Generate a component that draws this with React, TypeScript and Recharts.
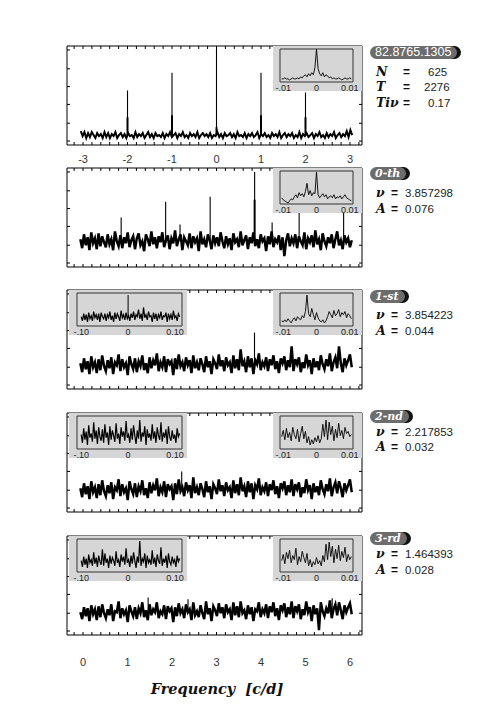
import { LineChart, Line, XAxis, YAxis } from 'recharts'

// spectral window (top panel), amplitudes in plot units (0..100)
const WIN_NOISE = [
  14, 9, 13, 7, 12, 8, 13, 10, 7, 12, 9, 11, 7, 13, 8,
  12, 7, 11, 9, 13, 7, 10, 12, 8, 11, 7, 12, 9, 10, 7,
  13, 8, 11, 9, 12, 7, 10, 13, 8, 11, 7, 12, 9, 10, 8,
  12, 7, 11, 9, 13, 8, 10, 12, 7, 11, 9, 13, 8, 10, 7,
  12, 9, 11, 8, 13, 7, 10, 12, 9, 11, 8, 12, 7, 10, 9,
  13, 8, 11, 7, 12, 9, 10, 12, 8, 11, 7, 13, 9, 10, 8,
  12, 7, 11, 9, 12, 8, 10, 13, 7, 11, 9, 12, 8, 10, 7,
  12, 9, 11, 8, 13, 7, 10, 12, 8, 11, 9, 12, 7, 10, 8,
  13, 7, 11, 9, 12, 8, 10, 12, 7, 11, 9, 13, 8, 10, 7,
  12, 8, 11, 9, 13, 7, 10, 12, 8, 11, 9, 14, 8, 15, 10,
]
const WIN_PEAK_F = [-2, -1, 0, 1, 2]
const WIN_PEAK_A = [55, 73, 97, 73, 53]
const WIN_LOBE_A = [28, 30, 18, 30, 28]
const WIN_BASE = 10

// prewhitening steps
const S0_NOISE = [
  28, 19, 33, 22, 30, 17, 35, 24, 29, 18, 34, 21, 31, 25, 20,
  33, 23, 28, 17, 36, 26, 21, 32, 19, 30, 24, 35, 20, 27, 31,
  18, 29, 34, 22, 26, 16, 33, 28, 21, 36, 23, 30, 19, 31, 25,
  35, 20, 27, 32, 18, 29, 24, 37, 21, 28, 33, 17, 30, 26, 22,
  34, 19, 31, 25, 29, 16, 36, 23, 28, 20, 33, 27, 18, 32, 24,
  30, 21, 35, 26, 19, 31, 23, 29, 17, 34, 25, 28, 20, 36, 22,
  27, 32, 18, 30, 24, 35, 21, 28, 19, 33, 26, 29, 16, 31, 23,
  36, 20, 28, 25, 32, 17, 30, 11, 27, 34, 21, 29, 24, 33, 19,
  31, 26, 22, 35, 18, 29, 25, 32, 20, 37, 23, 28, 17, 34, 26,
  21, 30, 24, 33, 19, 28, 36, 22, 27, 18, 32, 25, 29, 20, 27,
]
const S0_PEAK_F = [0.857, 1.857, 2.18, 2.857, 3.857, 4.25, 4.857, 5.857]
const S0_PEAK_A = [50, 66, 43, 71, 96, 45, 58, 58]
const S0_LOBE_A = [0, 0, 0, 0, 68, 0, 0, 0]
const S0_BASE = 26

const S1_NOISE = [
  26, 17, 31, 20, 28, 15, 33, 22, 27, 16, 30, 19, 34, 23, 18,
  29, 21, 32, 15, 27, 24, 35, 18, 30, 22, 26, 14, 33, 25, 20,
  31, 17, 28, 23, 34, 19, 26, 16, 32, 21, 29, 24, 36, 18, 27,
  22, 33, 17, 30, 25, 28, 14, 31, 20, 35, 23, 27, 18, 32, 24,
  29, 16, 34, 21, 27, 19, 31, 25, 17, 33, 22, 28, 15, 30, 26,
  20, 35, 23, 29, 18, 32, 24, 27, 16, 34, 21, 30, 19, 40, 23,
  28, 17, 33, 22, 31, 15, 29, 25, 36, 19, 27, 23, 32, 18, 30,
  24, 34, 20, 28, 16, 31, 26, 33, 19, 29, 22, 43, 18, 30, 25,
  32, 17, 27, 21, 35, 24, 29, 15, 31, 22, 28, 19, 34, 25, 20,
  30, 23, 36, 18, 27, 32, 21, 43, 26, 17, 31, 24, 29, 35, 22,
]
const S1_PEAK_F = [3.854]
const S1_PEAK_A = [57]
const S1_BASE = 24

const S2_NOISE = [
  24, 15, 29, 18, 26, 13, 31, 20, 25, 14, 28, 17, 32, 21, 16,
  27, 19, 30, 13, 25, 22, 33, 16, 28, 20, 24, 12, 31, 23, 18,
  29, 15, 26, 21, 32, 17, 24, 14, 30, 19, 27, 22, 34, 16, 25,
  20, 31, 15, 28, 23, 26, 12, 29, 18, 33, 21, 25, 16, 30, 22,
  27, 14, 35, 19, 25, 17, 29, 23, 15, 31, 20, 26, 13, 28, 24,
  18, 33, 21, 27, 16, 30, 22, 25, 14, 32, 19, 28, 17, 35, 21,
  26, 15, 31, 20, 29, 13, 27, 23, 34, 17, 25, 21, 30, 16, 28,
  22, 32, 18, 26, 14, 29, 24, 31, 17, 27, 20, 33, 16, 28, 23,
  30, 15, 25, 19, 33, 22, 27, 13, 29, 20, 26, 17, 32, 23, 18,
  28, 21, 34, 16, 25, 30, 19, 31, 24, 15, 29, 22, 27, 33, 20,
]
const S2_PEAK_F = [2.218]
const S2_PEAK_A = [41]
const S2_BASE = 22

const S3_NOISE = [
  23, 16, 28, 19, 27, 14, 30, 21, 26, 15, 29, 18, 31, 22, 17,
  26, 20, 31, 14, 24, 23, 34, 17, 27, 21, 25, 13, 30, 24, 19,
  28, 16, 27, 22, 33, 18, 25, 15, 31, 20, 26, 23, 33, 17, 24,
  21, 30, 16, 29, 24, 27, 13, 28, 19, 32, 22, 26, 17, 31, 23,
  26, 15, 33, 20, 24, 18, 30, 22, 16, 34, 21, 27, 14, 29, 25,
  19, 32, 22, 28, 17, 31, 23, 26, 15, 33, 20, 29, 18, 34, 22,
  25, 16, 30, 21, 28, 14, 26, 24, 33, 18, 26, 22, 31, 17, 29,
  23, 33, 19, 27, 15, 30, 25, 32, 18, 28, 21, 34, 17, 29, 24,
  31, 16, 26, 20, 34, 23, 28, 14, 30, 21, 27, 5, 33, 24, 19,
  27, 22, 35, 17, 26, 31, 20, 33, 25, 16, 30, 23, 28, 32, 21,
]
const S3_PEAK_F = [1.464, 2.36, 5.6]
const S3_PEAK_A = [38, 36, 37]
const S3_BASE = 22

// zoomed insets: +-0.01 c/d around the peak (right) and +-0.1 c/d (left)
const WIN_ZOOM = [3, 3, 4, 3, 3, 2, 3, 4, 3, 3, 4, 3, 5, 4, 6, 7, 5, 8, 6, 9, 7, 14, 32, 13, 8, 6, 9, 5, 7, 6, 4, 5, 3, 4, 3, 3, 4, 3, 2, 3, 4, 3, 3, 4, 3]
const S0_ZOOM = [6, 4, 3, 2, 1, 3, 5, 4, 7, 9, 6, 11, 8, 10, 7, 12, 20, 9, 13, 8, 11, 10, 31, 9, 6, 8, 10, 7, 9, 5, 7, 8, 6, 9, 5, 7, 6, 8, 5, 7, 9, 6, 5, 4, 3]
const S1_ZOOM = [5, 4, 6, 4, 7, 5, 3, 6, 8, 5, 9, 7, 6, 10, 8, 14, 30, 12, 9, 17, 11, 6, 13, 8, 5, 4, 6, 3, 5, 9, 14, 11, 8, 15, 10, 12, 16, 9, 13, 11, 14, 8, 12, 10, 7]
const S2_ZOOM = [12, 18, 9, 20, 11, 16, 8, 21, 14, 10, 19, 7, 15, 22, 10, 17, 6, 12, 4, 9, 5, 11, 7, 13, 6, 10, 24, 12, 28, 9, 26, 14, 22, 8, 19, 11, 25, 13, 18, 10, 21, 15, 17, 12, 14]
const S3_ZOOM = [11, 17, 8, 19, 13, 21, 9, 16, 12, 23, 7, 15, 10, 20, 14, 9, 18, 6, 12, 5, 10, 7, 14, 8, 11, 6, 16, 10, 27, 12, 29, 15, 25, 9, 22, 13, 26, 11, 20, 14, 24, 10, 17, 12, 15]

const S1_WIDE = [
  9, 5, 12, 6, 11, 4, 13, 7, 10, 5, 14, 8, 11, 6, 12, 4, 13, 9, 7, 12,
  5, 11, 8, 14, 6, 10, 4, 13, 7, 12, 9, 5, 15, 8, 11, 6, 13, 7, 10, 5,
  12, 8, 14, 6, 11, 9, 16, 7, 12, 5, 18, 8, 11, 6, 14, 9, 10, 4, 13, 7,
  12, 5, 11, 8, 14, 6, 10, 9, 13, 4, 12, 7, 11, 6, 15, 8, 10, 5, 12, 9,
]
const S2_WIDE = [
  14, 6, 20, 9, 17, 4, 23, 11, 15, 7, 26, 10, 18, 5, 21, 12, 8, 19, 6, 24,
  11, 16, 4, 22, 9, 18, 13, 7, 25, 10, 15, 5, 21, 12, 17, 8, 27, 11, 14, 6,
  20, 9, 23, 13, 5, 18, 10, 28, 7, 16, 12, 22, 4, 19, 11, 15, 8, 24, 10, 17,
  6, 21, 13, 9, 26, 7, 16, 11, 19, 5, 22, 12, 8, 18, 10, 14, 6, 20, 12, 15,
]
const S3_WIDE = [
  11, 5, 15, 7, 13, 4, 17, 9, 12, 6, 19, 8, 14, 5, 16, 10, 7, 22, 6, 18,
  9, 13, 4, 16, 8, 14, 11, 6, 20, 9, 12, 5, 17, 10, 15, 7, 23, 9, 12, 5,
  16, 8, 19, 11, 4, 15, 9, 30, 6, 13, 10, 18, 4, 16, 9, 12, 7, 21, 8, 14,
  5, 17, 11, 8, 24, 6, 13, 9, 16, 4, 18, 10, 7, 15, 9, 12, 5, 16, 10, 13,
]

const X_TICKS = [-0.2, 0, 0.2, 0.4, 0.6, 0.8, 1, 1.2, 1.4, 1.6, 1.8, 2, 2.2, 2.4, 2.6, 2.8, 3, 3.2, 3.4, 3.6, 3.8, 4, 4.2, 4.4, 4.6, 4.8, 5, 5.2, 5.4, 5.6, 5.8, 6, 6.2]
const WIN_TICKS = [-3.2, -3, -2.8, -2.6, -2.4, -2.2, -2, -1.8, -1.6, -1.4, -1.2, -1, -0.8, -0.6, -0.4, -0.2, 0, 0.2, 0.4, 0.6, 0.8, 1, 1.2, 1.4, 1.6, 1.8, 2, 2.2, 2.4, 2.6, 2.8, 3, 3.2]
const Y_TICKS = [4, 22, 41, 59, 77, 96]
const ZOOM_TICKS = [-0.01, 0, 0.01]
const ZOOM_LABELS = ['-.01', '0', '0.01']
const WIDE_TICKS = [-0.1, 0, 0.1]
const WIDE_LABELS = ['-.10', '0', '0.10']

const STEP_NAMES = ['0-th', '1-st', '2-nd', '3-rd']
const STEP_NU = ['3.857298', '3.854223', '2.217853', '1.464393']
const STEP_AMP = ['0.076', '0.044', '0.032', '0.028']

const SANS = '"Liberation Sans", Arial, sans-serif'
const SERIF = '"DejaVu Serif", serif'

const FRAME_L = 67
const FRAME_W = 295
const PANEL_H = 99
const PAD = 12
const INSET_PAD = 12

const isInt = (v: number) => Math.abs(v - Math.round(v)) < 1e-6

const bottomTick = (labelDy?: number) => (p: any) => (
  <g>
    <line x1={p.x} x2={p.x} y1={p.y} y2={p.y - 3} stroke="#000" />
    {labelDy && isInt(p.payload.value) ? (
      <text x={p.x} y={p.y + labelDy} textAnchor="middle" fontFamily={SANS} fontSize={11} fill="#333">
        {Math.round(p.payload.value)}
      </text>
    ) : null}
  </g>
)
const topTick = (p: any) => <line x1={p.x} x2={p.x} y1={p.y} y2={p.y + 3} stroke="#000" />
const leftTick = (p: any) => <line x1={p.x} x2={p.x + 3} y1={p.y} y2={p.y} stroke="#000" />
const rightTick = (p: any) => <line x1={p.x} x2={p.x - 3} y1={p.y} y2={p.y} stroke="#000" />

interface PanelProps {
  top: number
  domain: [number, number]
  ticks: number[]
  span: [number, number]
  noise: number[]
  peakF: number[]
  peakA: number[]
  lobeA?: number[]
  base: number
  labelDy?: number
  noiseWidth?: number
}

function Panel(p: PanelProps) {
  const n = p.noise.length
  const data = p.noise.map((y, i) => ({ x: p.span[0] + (i * (p.span[1] - p.span[0])) / (n - 1), y }))
  const spikes: { x: number; y: number | null }[] = []
  p.peakF.forEach((f, i) => {
    spikes.push({ x: f, y: p.base }, { x: f, y: p.peakA[i] }, { x: f, y: null })
    const lobe = p.lobeA ? p.lobeA[i] : 0
    if (lobe) {
      for (const d of [-0.01, 0.01]) spikes.push({ x: f + d, y: p.base }, { x: f + d, y: lobe }, { x: f + d, y: null })
    }
  })
  const bottom = p.labelDy ? p.labelDy + 8 : 6
  return (
    <div style={{ position: 'absolute', left: FRAME_L - PAD, top: p.top - 4 }}>
      <LineChart width={FRAME_W + 2 * PAD} height={PANEL_H + 4 + bottom} data={data} margin={{ top: 3, right: PAD - 1, bottom: bottom - 1, left: PAD - 1 }}>
        <XAxis dataKey="x" type="number" domain={p.domain} ticks={p.ticks} interval={0} allowDataOverflow height={1} tickSize={0} tickMargin={0} stroke="#000" tick={bottomTick(p.labelDy)} />
        <XAxis xAxisId="top" orientation="top" dataKey="x" type="number" domain={p.domain} ticks={p.ticks} interval={0} allowDataOverflow height={1} tickSize={0} tickMargin={0} stroke="#000" tick={topTick} />
        <YAxis type="number" domain={[0, 100]} ticks={Y_TICKS} interval={0} allowDataOverflow width={1} tickSize={0} tickMargin={0} stroke="#000" tick={leftTick} />
        <YAxis yAxisId="right" orientation="right" type="number" domain={[0, 100]} ticks={Y_TICKS} interval={0} allowDataOverflow width={1} tickSize={0} tickMargin={0} stroke="#000" tick={rightTick} />
        <Line dataKey="y" type="linear" stroke="#000" strokeWidth={p.noiseWidth ?? 2.5} strokeLinejoin="miter" dot={false} isAnimationActive={false} />
        <Line data={spikes} dataKey="y" type="linear" stroke="#000" strokeWidth={1.1} dot={false} isAnimationActive={false} />
      </LineChart>
    </div>
  )
}

interface InsetProps {
  top: number
  wide?: boolean
  values: number[]
  peakF?: number[]
  peakA?: number[]
  base?: number
}

function Inset(p: InsetProps) {
  const cfg = p.wide
    ? { grayL: 69, grayW: 118, frameL: 77, frameW: 105, domain: [-0.109, 0.115], ticks: WIDE_TICKS, labels: WIDE_LABELS, span: [-0.1, 0.11] }
    : { grayL: 273, grayW: 89, frameL: 280, frameW: 73, domain: [-0.011, 0.011], ticks: ZOOM_TICKS, labels: ZOOM_LABELS, span: [-0.0105, 0.0105] }
  const n = p.values.length
  const data = p.values.map((y, i) => ({ x: cfg.span[0] + (i * (cfg.span[1] - cfg.span[0])) / (n - 1), y }))
  const spikes: { x: number; y: number | null }[] = []
  ;(p.peakF || []).forEach((f, i) => spikes.push({ x: f, y: p.base ?? 0 }, { x: f, y: p.peakA![i] }, { x: f, y: null }))
  const frameH = 32
  const labelTick = (t: any) => (
    <text x={t.x} y={t.y + 9} textAnchor="middle" fontFamily={SANS} fontSize={9} fill="#222">
      {cfg.labels[cfg.ticks.indexOf(t.payload.value)]}
    </text>
  )
  return (
    <>
      <div style={{ position: 'absolute', left: cfg.grayL, top: p.top, width: cfg.grayW, height: 45, background: '#d6d6d6' }} />
      <div style={{ position: 'absolute', left: cfg.frameL - 1 - INSET_PAD, top: p.top + 3 - 1 }}>
        <LineChart width={cfg.frameW + 2 + 2 * INSET_PAD} height={frameH + 17} data={data} margin={{ top: 0, right: INSET_PAD, bottom: 14, left: INSET_PAD }}>
          <XAxis dataKey="x" type="number" domain={cfg.domain} ticks={cfg.ticks} interval={0} allowDataOverflow height={1} tickSize={0} tickMargin={0} stroke="#333" tick={labelTick} />
          <XAxis xAxisId="top" orientation="top" dataKey="x" type="number" domain={cfg.domain} ticks={cfg.ticks} allowDataOverflow height={1} tick={false} tickLine={false} stroke="#333" />
          <YAxis type="number" domain={[0, frameH]} ticks={[0, frameH]} allowDataOverflow width={1} tick={false} tickLine={false} stroke="#333" />
          <YAxis yAxisId="right" orientation="right" type="number" domain={[0, frameH]} ticks={[0, frameH]} allowDataOverflow width={1} tick={false} tickLine={false} stroke="#333" />
          <Line dataKey="y" type="linear" stroke="#000" strokeWidth={p.wide ? 1.2 : 0.9} dot={false} isAnimationActive={false} />
          {spikes.length > 0 && <Line data={spikes} dataKey="y" type="linear" stroke="#000" strokeWidth={1} dot={false} isAnimationActive={false} />}
        </LineChart>
      </div>
    </>
  )
}

function Badge({ x, y, text, serif }: { x: number; y: number; text: string; serif?: boolean }) {
  return (
    <div
      style={{
        position: 'absolute', left: x, top: y, height: 13, lineHeight: '13px', padding: '0 6px 0 5px', borderRadius: 7,
        background: '#6c6c6c', color: '#fff', boxShadow: '4px 0 0 #111', whiteSpace: 'nowrap',
        fontFamily: serif ? SERIF : SANS, fontStyle: serif ? 'italic' : 'normal', fontWeight: serif ? 'bold' : 'normal',
        fontSize: serif ? 11 : 12.5,
      }}
    >
      {text}
    </div>
  )
}

function Row({ y, label, eqX, valX, value }: { y: number; label: string; eqX: number; valX: number; value: string }) {
  const base = { position: 'absolute' as const, top: y - 8, height: 16, lineHeight: '16px', whiteSpace: 'nowrap' as const }
  return (
    <>
      <div style={{ ...base, left: 376, fontFamily: SERIF, fontStyle: 'italic', fontWeight: 'bold', fontSize: 12.5, color: '#111' }}>{label}</div>
      <div style={{ ...base, left: eqX, fontFamily: SANS, fontWeight: 'bold', fontSize: 12, color: '#111' }}>=</div>
      <div style={{ ...base, left: valX, fontFamily: SANS, fontSize: 11.5, color: '#222' }}>{value}</div>
    </>
  )
}

const PANEL_TOPS = [168, 290, 413, 536]
const ROW_Y = [[193, 209], [315, 331], [432, 447], [554, 570]]
const BADGE_Y = [167, 290, 410, 532]

export default function App() {
  const steps = [
    { noise: S0_NOISE, f: S0_PEAK_F, a: S0_PEAK_A, lobe: S0_LOBE_A, base: S0_BASE, zoom: S0_ZOOM, wide: null as number[] | null },
    { noise: S1_NOISE, f: S1_PEAK_F, a: S1_PEAK_A, lobe: undefined, base: S1_BASE, zoom: S1_ZOOM, wide: S1_WIDE },
    { noise: S2_NOISE, f: S2_PEAK_F, a: S2_PEAK_A, lobe: undefined, base: S2_BASE, zoom: S2_ZOOM, wide: S2_WIDE },
    { noise: S3_NOISE, f: S3_PEAK_F, a: S3_PEAK_A, lobe: undefined, base: S3_BASE, zoom: S3_ZOOM, wide: S3_WIDE },
  ]
  return (
    <div style={{ position: 'absolute', left: 0, top: 0, width: 491, height: 708, background: '#fff', overflow: 'hidden' }}>
      {/* spectral window */}
      <Panel top={46} domain={[-3.36, 3.27]} ticks={WIN_TICKS} span={[-3.05, 3.05]} noise={WIN_NOISE} peakF={WIN_PEAK_F} peakA={WIN_PEAK_A} lobeA={WIN_LOBE_A} base={WIN_BASE} labelDy={18} noiseWidth={2} />
      <Inset top={46} values={WIN_ZOOM} />

      {steps.map((s, i) => (
        <div key={i}>
          <Panel top={PANEL_TOPS[i]} domain={[-0.36, 6.27]} ticks={X_TICKS} span={[-0.06, 6.04]} noise={s.noise} peakF={s.f} peakA={s.a} lobeA={s.lobe} base={s.base} labelDy={i === 3 ? 31 : undefined} />
          <Inset top={PANEL_TOPS[i]} values={s.zoom} />
          {s.wide && <Inset top={PANEL_TOPS[i]} wide values={s.wide} peakF={i === 1 ? [0] : undefined} peakA={i === 1 ? [30] : undefined} base={9} />}
        </div>
      ))}

      {/* right-hand annotations */}
      <Badge x={370} y={46} text="82.8765.1305" />
      <Row y={72} label="N" eqX={403} valX={428} value="625" />
      <Row y={87} label="T" eqX={403} valX={424} value="2276" />
      <Row y={103} label="Tiν" eqX={403} valX={428} value="0.17" />

      {STEP_NAMES.map((name, i) => (
        <div key={name}>
          <Badge x={370} y={BADGE_Y[i]} text={name} serif />
          <Row y={ROW_Y[i][0]} label="ν" eqX={391} valX={405} value={STEP_NU[i]} />
          <Row y={ROW_Y[i][1]} label="A" eqX={391} valX={405} value={STEP_AMP[i]} />
        </div>
      ))}

      <div style={{ position: 'absolute', left: 0, width: 434, top: 680, textAlign: 'center', fontFamily: SERIF, fontStyle: 'italic', fontWeight: 'bold', fontSize: 14.5, color: '#111', whiteSpace: 'nowrap' }}>
        Frequency&nbsp;&nbsp;[c/d]
      </div>
    </div>
  )
}
